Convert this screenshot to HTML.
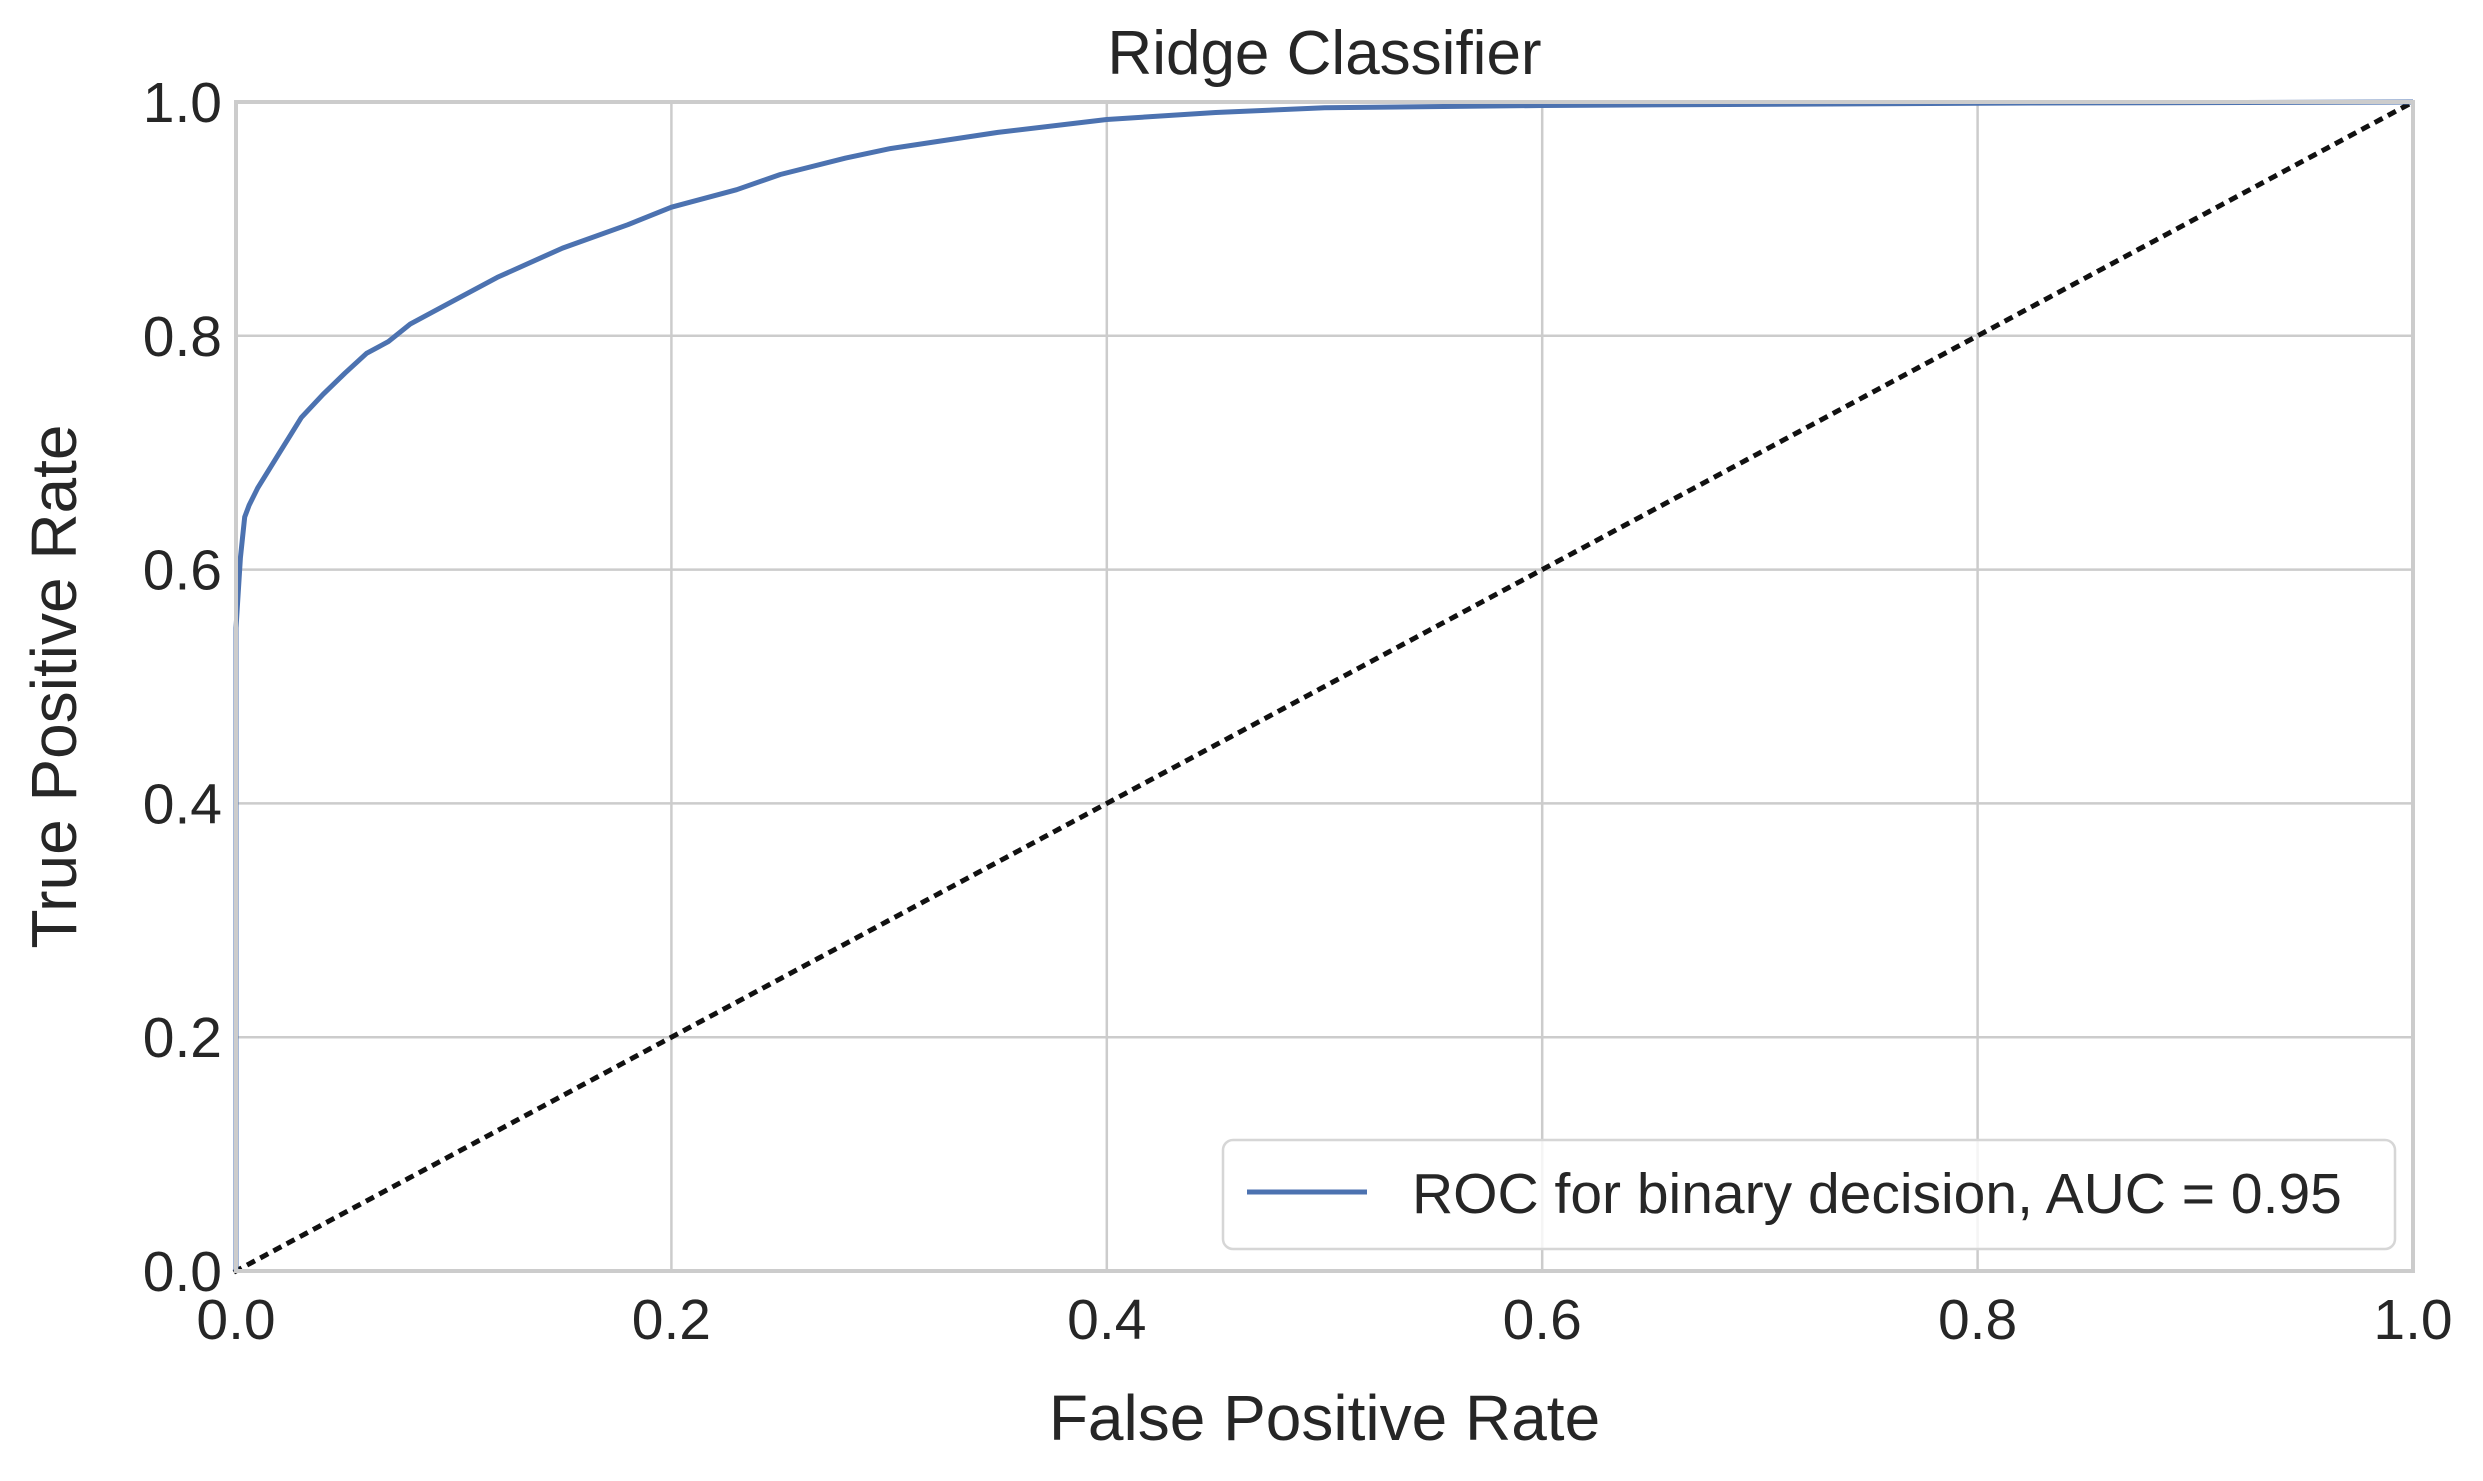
<!DOCTYPE html>
<html><head><meta charset="utf-8"><style>
html,body{margin:0;padding:0;background:#fff;}
svg{display:block;font-family:"Liberation Sans",Arial,sans-serif;}
</style></head><body>
<svg id="chart" width="2483" height="1481" viewBox="0 0 2483 1481">
<g id="grid"></g>
<g id="marks"></g>
<g id="axes"></g>
</svg>
<script>
const fprValues=[0,0,0.001,0.002,0.004,0.006,0.01,0.015,0.02,0.025,0.03,0.04,0.05,0.06,0.07,0.08,0.1,0.12,0.15,0.18,0.2,0.23,0.25,0.28,0.3,0.35,0.4,0.45,0.5,0.6,0.8,1.0];
const tprValues=[0,0.55,0.58,0.61,0.645,0.655,0.67,0.685,0.70,0.715,0.73,0.75,0.768,0.785,0.795,0.81,0.83,0.85,0.875,0.895,0.91,0.925,0.938,0.952,0.96,0.974,0.985,0.991,0.995,0.997,0.999,1.0];
const diagX=[0,1];
const diagY=[0,1];
const xTicks=[0,0.2,0.4,0.6,0.8,1.0];
const yTicks=[0,0.2,0.4,0.6,0.8,1.0];
const xTickLabels=["0.0","0.2","0.4","0.6","0.8","1.0"];
const yTickLabels=["0.0","0.2","0.4","0.6","0.8","1.0"];

const L=236,R=2413,T=102,B=1271;
const sx=v=>L+v*(R-L);
const sy=v=>B-v*(B-T);
const NS="http://www.w3.org/2000/svg";
function mk(tag,attrs,parent,text){const e=document.createElementNS(NS,tag);for(const k in attrs)e.setAttribute(k,attrs[k]);if(text!==undefined)e.textContent=text;parent.appendChild(e);return e;}
const grid=document.getElementById('grid'),marks=document.getElementById('marks'),axes=document.getElementById('axes');

xTicks.forEach((v,i)=>{
  const g=mk('line',{x1:sx(v),x2:sx(v),y1:T,y2:B,stroke:'#cccccc','stroke-width':2.5},grid);
  
  
  const t=mk('text',{x:sx(v),y:1339,'text-anchor':'middle','font-size':57,fill:'#262626'},axes,xTickLabels[i]);
  
  
});
yTicks.forEach((v,i)=>{
  const g=mk('line',{x1:L,x2:R,y1:sy(v),y2:sy(v),stroke:'#cccccc','stroke-width':2.5},grid);
  
  
  const t=mk('text',{x:222,y:sy(v)+20,'text-anchor':'end','font-size':57,fill:'#262626'},axes,yTickLabels[i]);
  
  
});

const d=diagX.map((v,i)=>(i?'L':'M')+sx(v)+','+sy(diagY[i])).join(' ');
const dl=mk('path',{d:d,stroke:'#111',fill:'none','stroke-width':5,'stroke-dasharray':'4,11','stroke-linecap':'square'},marks);



const p=fprValues.map((v,i)=>(i?'L':'M')+sx(v).toFixed(1)+','+sy(tprValues[i]).toFixed(1)).join(' ');
const rl=mk('path',{d:p,stroke:'#4c72b0',fill:'none','stroke-width':5,'stroke-linejoin':'round'},marks);



const fr=mk('rect',{x:L,y:T,width:R-L,height:B-T,fill:'none',stroke:'#cccccc','stroke-width':4},axes);



const tt=mk('text',{x:(L+R)/2,y:74,'text-anchor':'middle','font-size':62,fill:'#262626'},axes,'Ridge Classifier');


const xt=mk('text',{x:(L+R)/2,y:1440,'text-anchor':'middle','font-size':64,fill:'#262626'},axes,'False Positive Rate');


const yt=mk('text',{x:0,y:0,'text-anchor':'middle','font-size':64,fill:'#262626',transform:'translate(76,'+((T+B)/2)+') rotate(-90)'},axes,'True Positive Rate');



const lg=mk('g',{},axes);


mk('rect',{x:1223,y:1140,width:1172,height:109,rx:10,fill:'#fff','fill-opacity':0.8,stroke:'#d6d6d6','stroke-width':2.5},lg);
const ll=mk('line',{x1:1247,x2:1367,y1:1192,y2:1192,stroke:'#4c72b0','stroke-width':5},lg);


const lt=mk('text',{x:1412,y:1213,'font-size':57,fill:'#262626'},lg,'ROC for binary decision, AUC = 0.95');


</script>
</body></html>
